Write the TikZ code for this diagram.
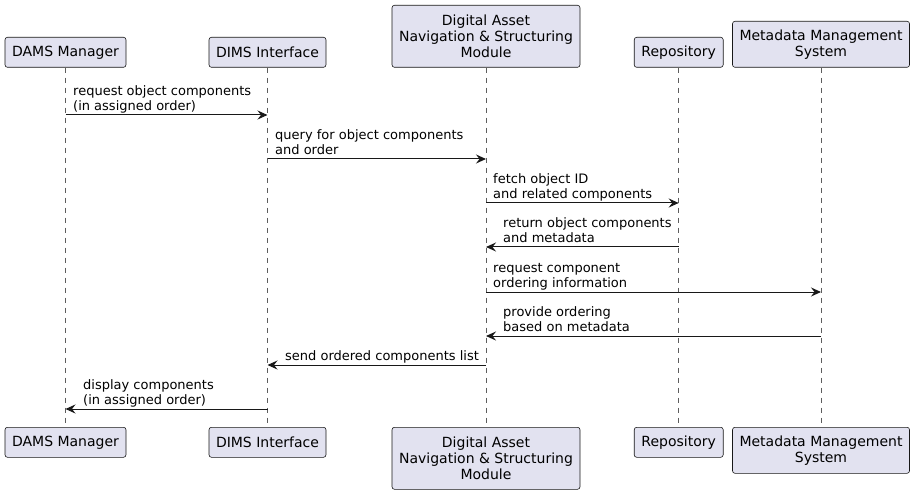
\documentclass[tikz,border=0pt]{standalone}
\usepackage{fontspec}
\setmainfont{DejaVu Sans}
\usetikzlibrary{arrows.meta}
\definecolor{pfill}{HTML}{E2E2F0}
\definecolor{pline}{HTML}{181818}
\begin{document}
\begin{tikzpicture}[x=1pt,y=-1pt,
  actor/.style={draw=pline, fill=pfill, rounded corners=2.5pt, line width=0.6pt,
    align=center, inner sep=0pt, anchor=north,
    font=\fontsize{14}{16.3}\selectfont},
  life/.style={draw=pline!70, line width=0.5pt, dash pattern=on 5pt off 5pt},
  msg/.style={draw=pline, line width=1pt, -{Stealth[length=10pt,width=9pt,inset=3.5pt]}},
  lbl/.style={anchor=south west, inner sep=0pt, text depth=0pt, align=left,
    font=\fontsize{13}{15}\selectfont, text=black}]
\useasboundingbox (0,0) rectangle (915,494);
% top participants
\node[actor, minimum width=121pt, minimum height=30pt] (damsT) at (65.5,37) {DAMS Manager};
\node[actor, minimum width=117pt, minimum height=30pt] (dimsT) at (267.5,37) {DIMS Interface};
\node[actor, minimum width=188pt, minimum height=62pt] (dansT) at (486,5) {Digital Asset\\Navigation \& Structuring\\Module};
\node[actor, minimum width=89pt, minimum height=30pt] (repoT) at (678.7,37) {Repository};
\node[actor, minimum width=177pt, minimum height=46pt] (metaT) at (821,21) {Metadata Management\\System};
% bottom participants
\node[actor, minimum width=121pt, minimum height=30pt] (damsB) at (65.5,427) {DAMS Manager};
\node[actor, minimum width=117pt, minimum height=30pt] (dimsB) at (267.5,427) {DIMS Interface};
\node[actor, minimum width=188pt, minimum height=62pt] (dansB) at (486,427) {Digital Asset\\Navigation \& Structuring\\Module};
\node[actor, minimum width=89pt, minimum height=30pt] (repoB) at (678.7,427) {Repository};
\node[actor, minimum width=177pt, minimum height=46pt] (metaB) at (821,427) {Metadata Management\\System};
% lifelines
\draw[life] (damsT.south) -- (damsB.north);
\draw[life] (dimsT.south) -- (dimsB.north);
\draw[life] (dansT.south) -- (dansB.north);
\draw[life] (repoT.south) -- (repoB.north);
\draw[life] (metaT.south) -- (metaB.north);
% messages
\draw[msg] (damsT.south |- 0,115) -- (dimsT.south |- 0,115);
\node[lbl] (m1) at (73,110.5) {request object components\\(in assigned order)};
\draw[msg] (dimsT.south |- 0,159) -- (dansT.south |- 0,159);
\node[lbl] (m2) at (275,154.5) {query for object components\\and order};
\draw[msg] (dansT.south |- 0,203) -- (repoT.south |- 0,203);
\node[lbl] (m3) at (493,198.5) {fetch object ID\\and related components};
\draw[msg] (repoT.south |- 0,247) -- (dansT.south |- 0,247);
\node[lbl] (m4) at (503,242.5) {return object components\\and metadata};
\draw[msg] (dansT.south |- 0,292) -- (metaT.south |- 0,292);
\node[lbl] (m5) at (493,287.5) {request component\\ordering information};
\draw[msg] (metaT.south |- 0,336) -- (dansT.south |- 0,336);
\node[lbl] (m6) at (503,331.5) {provide ordering\\based on metadata};
\draw[msg] (dansT.south |- 0,365) -- (dimsT.south |- 0,365);
\node[lbl] (m7) at (285,360.5) {send ordered components list};
\draw[msg] (dimsT.south |- 0,409) -- (damsT.south |- 0,409);
\node[lbl] (m8) at (83,404.5) {display components\\(in assigned order)};
\end{tikzpicture}
\end{document}
